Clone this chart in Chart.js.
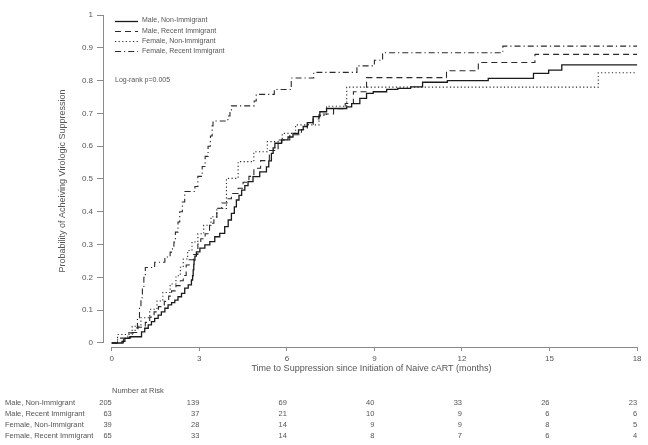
<!DOCTYPE html>
<html><head><meta charset="utf-8">
<script src="https://cdn.jsdelivr.net/npm/chart.js@4.4.1/dist/chart.umd.min.js"></script>
<style>html,body{margin:0;padding:0;background:#fff;}#wrap{width:648px;height:445px;}</style>
</head><body><div id="wrap"><canvas id="c" width="648" height="445"></canvas></div>
<script>
const FONT = "'Liberation Sans', Arial, sans-serif";
const seriesNames = ["Male, Non-Immigrant","Male, Recent Immigrant","Female, Non-Immigrant","Female, Recent Immigrant"];

const maleNonT = [0.35,0.45,0.62,1.02,1.13,1.25,1.36,1.47,1.59,1.7,1.82,1.93,2.05,2.16,2.27,2.39,2.5,2.62,2.73,2.77,2.79,2.81,2.82,2.85,2.9,3.02,3.19,3.36,3.53,3.7,3.87,3.99,4.1,4.2,4.27,4.36,4.45,4.56,4.67,4.84,5.07,5.3,5.38,5.47,5.53,5.59,5.82,6.04,6.21,6.4,6.56,6.7,6.9,7.13,7.36,8.05,8.22,8.5,8.73,8.96,9.42,9.8,10.24,10.65,11.5,12.9,14.45,14.97,15.42];
const maleNonP = [0.005,0.014,0.019,0.034,0.045,0.055,0.065,0.075,0.085,0.095,0.106,0.116,0.123,0.131,0.141,0.151,0.167,0.177,0.192,0.205,0.223,0.24,0.253,0.265,0.278,0.289,0.299,0.309,0.324,0.334,0.355,0.375,0.395,0.415,0.436,0.45,0.466,0.48,0.492,0.507,0.522,0.537,0.555,0.578,0.595,0.609,0.619,0.628,0.639,0.65,0.66,0.672,0.69,0.705,0.715,0.72,0.73,0.746,0.761,0.766,0.773,0.776,0.781,0.795,0.80,0.807,0.822,0.832,0.848];

const maleRecT = [0.4,0.65,0.9,1.15,1.3,1.45,1.6,1.8,1.95,2.05,2.2,2.35,2.45,2.55,2.65,2.8,2.95,3.05,3.2,3.35,3.5,3.6,3.77,3.95,4.1,4.33,4.5,4.7,4.87,5.1,5.4,5.7,6.1,6.5,6.7,6.9,7.1,7.6,8.0,8.28,8.73,11.47,12.56,14.5];
const maleRecP = [0.016,0.032,0.048,0.063,0.079,0.095,0.111,0.127,0.143,0.159,0.175,0.19,0.206,0.238,0.254,0.27,0.302,0.318,0.333,0.365,0.38,0.411,0.427,0.44,0.456,0.472,0.49,0.508,0.533,0.556,0.587,0.619,0.635,0.651,0.667,0.683,0.698,0.714,0.73,0.766,0.809,0.83,0.855,0.88];

const femNonT = [0.2,0.7,1.0,1.3,1.55,1.75,2.0,2.2,2.35,2.45,2.6,2.75,2.95,3.15,3.4,3.6,3.93,4.33,4.87,5.33,5.84,6.3,7.1,7.36,8.05,16.67];
const femNonP = [0.026,0.051,0.077,0.103,0.128,0.154,0.18,0.205,0.231,0.256,0.282,0.308,0.333,0.359,0.385,0.41,0.502,0.553,0.583,0.614,0.639,0.665,0.694,0.722,0.78,0.824];

const femRecT = [0.2,0.55,0.8,0.88,0.95,1.0,1.05,1.1,1.15,1.47,1.82,2.0,2.08,2.13,2.18,2.27,2.33,2.42,2.5,2.85,2.95,3.1,3.2,3.3,3.38,3.44,3.47,3.98,4.05,4.1,4.88,4.95,5.57,6.15,6.92,8.4,9.0,9.28,13.4];
const femRecP = [0.015,0.031,0.046,0.077,0.108,0.138,0.169,0.2,0.23,0.246,0.262,0.277,0.292,0.308,0.338,0.369,0.4,0.43,0.462,0.477,0.508,0.538,0.569,0.6,0.631,0.662,0.677,0.692,0.708,0.723,0.738,0.758,0.773,0.808,0.825,0.845,0.862,0.885,0.905];

const xTicks = [0,3,6,9,12,15,18];
const yTicks = [0,0.1,0.2,0.3,0.4,0.5,0.6,0.7,0.8,0.9,1];
const riskTimes = [0,3,6,9,12,15,18];
const riskMaleNon = [205,139,69,40,33,26,23];
const riskMaleRec = [63,37,21,10,9,6,6];
const riskFemNon = [39,28,14,9,9,8,5];
const riskFemRec = [65,33,14,8,7,6,4];

function km(ts, ps) {
  const pts = [{x:0,y:0}];
  ts.forEach((t,i)=>pts.push({x:t,y:ps[i]}));
  pts.push({x:18,y:ps[ps.length-1]});
  return pts;
}
const styles = [
  {dash:[], color:'#1a1a1a', w:1.3},
  {dash:[6,4], color:'#2a2a2a', w:1.1},
  {dash:[1.2,2.4], color:'#2a2a2a', w:1.1},
  {dash:[6,3,1.2,3], color:'#2a2a2a', w:1.1}
];
const allData = [km(maleNonT,maleNonP), km(maleRecT,maleRecP), km(femNonT,femNonP), km(femRecT,femRecP)];
const riskRows = [riskMaleNon, riskMaleRec, riskFemNon, riskFemRec];

const overlay = {
  id:'overlay',
  afterDraw(chart){
    const {ctx, chartArea, scales:{x,y}} = chart;
    ctx.save();
    ctx.strokeStyle = '#8a8a8a'; ctx.lineWidth = 1; ctx.setLineDash([]);
    ctx.beginPath();
    const ax = Math.round(chartArea.left)+0.5;
    ctx.moveTo(ax, y.getPixelForValue(1)); ctx.lineTo(ax, y.getPixelForValue(0));
    const ay = Math.round(chartArea.bottom)+0.5;
    ctx.moveTo(x.getPixelForValue(0), ay); ctx.lineTo(x.getPixelForValue(18), ay);
    ctx.stroke();
    // legend
    ctx.font = "7px " + FONT; ctx.textBaseline = 'middle'; ctx.textAlign = 'left';
    const legY = [20.5, 31, 41, 51];
    chart.data.datasets.forEach((ds,i)=>{
      ctx.beginPath();
      ctx.strokeStyle = ds.borderColor; ctx.lineWidth = ds.borderWidth; ctx.setLineDash(ds.borderDash||[]);
      ctx.moveTo(115, Math.round(legY[i])+0.5); ctx.lineTo(138, Math.round(legY[i])+0.5); ctx.stroke();
      ctx.fillStyle = '#555';
      ctx.fillText(ds.label, 142, legY[i]);
    });
    ctx.setLineDash([]);
    ctx.fillText('Log-rank p=0.005', 115, 80);
    // number at risk table
    ctx.font = "7.5px " + FONT;
    ctx.fillText('Number at Risk', 112, 391);
    const rowY = [403, 414, 425, 436];
    riskRows.forEach((row,i)=>{
      ctx.textAlign = 'left';
      ctx.fillText(seriesNames[i], 5, rowY[i]);
      ctx.textAlign = 'right';
      row.forEach((v,j)=>ctx.fillText(String(v), x.getPixelForValue(riskTimes[j]), rowY[i]));
    });
    ctx.restore();
  }
};

new Chart(document.getElementById('c'), {
  type:'line',
  data:{datasets: allData.map((d,i)=>({
    label: seriesNames[i], data: d, stepped:'before', borderColor: styles[i].color,
    borderWidth: styles[i].w, borderDash: styles[i].dash, pointRadius:0, fill:false, tension:0
  }))},
  options:{
    responsive:false, animation:false, devicePixelRatio:1,
    layout:{padding:{left:0, top:15, right:8, bottom:0}},
    plugins:{legend:{display:false}, tooltip:{enabled:false}},
    scales:{
      x:{type:'linear', min:-0.3, max:18.1,
        afterBuildTicks:(s)=>{s.ticks = xTicks.map(v=>({value:v}));},
        afterFit:(s)=>{s.height = 98;},
        grid:{display:true, drawOnChartArea:false, drawTicks:true, tickLength:4, color:'#8a8a8a'},
        border:{display:false},
        ticks:{font:{size:8, family:FONT}, color:'#555', padding:3, maxRotation:0, autoSkip:false, callback:(v)=>String(v)},
        title:{display:true, text:'Time to Suppression since Initiation of Naive cART (months)', font:{size:9, family:FONT}, color:'#555', padding:{top:2, bottom:71}}
      },
      y:{type:'linear', min:-0.0122, max:1,
        afterBuildTicks:(s)=>{s.ticks = yTicks.map(v=>({value:v}));},
        afterFit:(s)=>{s.width = 103;},
        grid:{display:true, drawOnChartArea:false, drawTicks:true, tickLength:6, color:'#8a8a8a'},
        border:{display:false},
        ticks:{font:{size:8, family:FONT}, color:'#555', padding:4, autoSkip:false, callback:(v)=> (v===0?'0':v===1?'1':v.toFixed(1))},
        title:{display:true, text:'Probability of Acheiving Virologic Suppression', font:{size:9, family:FONT}, color:'#555', padding:{top:57, bottom:0}}
      }
    }
  },
  plugins:[overlay]
});
</script></body></html>
